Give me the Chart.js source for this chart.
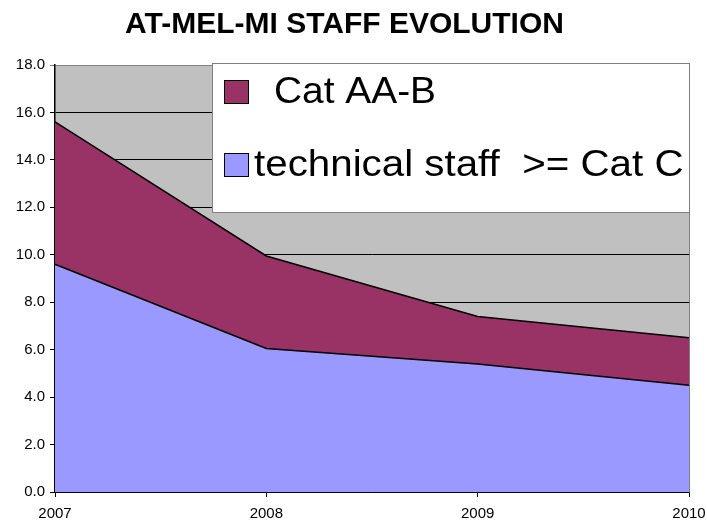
<!DOCTYPE html>
<html>
<head>
<meta charset="utf-8">
<script src="https://cdn.jsdelivr.net/npm/chart.js@4/dist/chart.umd.min.js"></script>
<style>
  body { margin: 0; background: #fff; }
  #wrap { width: 707px; height: 522px; }
</style>
</head>
<body>
<div id="wrap"><canvas id="canvas"></canvas></div>
<script>
var years = ['2007', '2008', '2009', '2010'];
var technicalStaff = [9.6, 6.05, 5.4, 4.5];
var catAAB = [6.0, 3.9, 2.0, 2.0];
var yMin = 0, yMax = 18, yStep = 2;

var FONT = "Arial, 'Liberation Sans', sans-serif";

// gray plot background + right border
var plotBg = {
  id: 'plotBg',
  beforeDraw: function(chart) {
    var a = chart.chartArea, ctx = chart.ctx;
    ctx.save();
    ctx.fillStyle = '#C0C0C0';
    ctx.fillRect(a.left, a.top, a.right - a.left, a.bottom - a.top);
    ctx.restore();
  },
  beforeDatasetsDraw: function(chart) {
    var a = chart.chartArea, ctx = chart.ctx;
    ctx.save();
    ctx.strokeStyle = '#808080';
    ctx.lineWidth = 1;
    ctx.beginPath();
    ctx.moveTo(a.right + 0.5, a.top);
    ctx.lineTo(a.right + 0.5, a.bottom);
    ctx.stroke();
    ctx.restore();
  }
};

// boxed legend drawn over the top right of the plot
var boxLegend = {
  id: 'boxLegend',
  afterDatasetsDraw: function(chart) {
    var ctx = chart.ctx, a = chart.chartArea;
    var x0 = 212, y0 = 63, x1 = a.right, y1 = 212;
    ctx.save();
    ctx.fillStyle = '#fff';
    ctx.fillRect(x0, y0, x1 - x0, y1 - y0);
    ctx.strokeStyle = '#808080';
    ctx.lineWidth = 1;
    ctx.strokeRect(x0 + 0.5, y0 + 0.5, x1 - x0, y1 - y0);
    var items = chart.data.datasets.slice().reverse();
    var rows = [{ y: 92, tx: 274, sx: 1.08 }, { y: 165, tx: 254, sx: 1.12 }];
    ctx.font = '36px ' + FONT;
    ctx.textBaseline = 'middle';
    items.forEach(function(ds, i) {
      var r = rows[i];
      ctx.fillStyle = ds.backgroundColor;
      ctx.fillRect(224, r.y - 12, 25, 24);
      ctx.strokeStyle = '#000';
      ctx.strokeRect(224.5, r.y - 11.5, 24, 23);
      ctx.fillStyle = '#000';
      ctx.save();
      ctx.translate(r.tx, r.y + 1);
      ctx.scale(r.sx, 1);
      ctx.fillText(ds.label, 0, 0);
      ctx.restore();
    });
    ctx.restore();
  }
};

function init() {
  var ctx = document.getElementById('canvas').getContext('2d');
  window.myChart = new Chart(ctx, {
    type: 'line',
    data: {
      labels: years,
      datasets: [{
        label: 'technical staff  >= Cat C',
        data: technicalStaff,
        backgroundColor: '#9999FF',
        borderColor: '#000',
        borderWidth: 1.5,
        fill: 'origin',
        pointRadius: 0,
        tension: 0
      }, {
        label: 'Cat AA-B',
        data: catAAB,
        backgroundColor: '#993366',
        borderColor: '#000',
        borderWidth: 1.5,
        fill: '-1',
        pointRadius: 0,
        tension: 0
      }]
    },
    options: {
      responsive: true,
      maintainAspectRatio: false,
      animation: false,
      layout: { padding: { left: 0, right: 18, top: 0, bottom: 0 } },
      plugins: {
        legend: { display: false },
        tooltip: { enabled: false },
        title: {
          display: true,
          text: 'AT-MEL-MI STAFF EVOLUTION',
          color: '#000',
          font: { family: FONT, size: 30, weight: 'bold', lineHeight: 1.2 },
          padding: { top: 7, bottom: 22 }
        }
      },
      scales: {
        x: {
          offset: false,
          grid: { drawOnChartArea: false, drawTicks: true, tickLength: 5, color: '#000' },
          border: { color: '#000', width: 1.5 },
          ticks: { color: '#000', font: { family: FONT, size: 15 }, padding: 8, maxRotation: 0 },
          afterFit: function(s) { s.height = 30; s.paddingLeft = 0; s.paddingRight = 0; }
        },
        y: {
          stacked: true,
          min: yMin,
          max: yMax,
          grid: {
            color: function(c) { return c.tick && c.tick.value === yMax ? '#808080' : '#000'; },
            tickLength: 5
          },
          border: { color: '#000', width: 1.5 },
          ticks: {
            stepSize: yStep,
            color: '#000',
            font: { family: FONT, size: 15 },
            padding: 5,
            callback: function(v) { return v.toFixed(1); }
          },
          afterFit: function(s) { s.width = 55; }
        }
      }
    },
    plugins: [plotBg, boxLegend]
  });
}

window.onload = init;
</script>
</body>
</html>
